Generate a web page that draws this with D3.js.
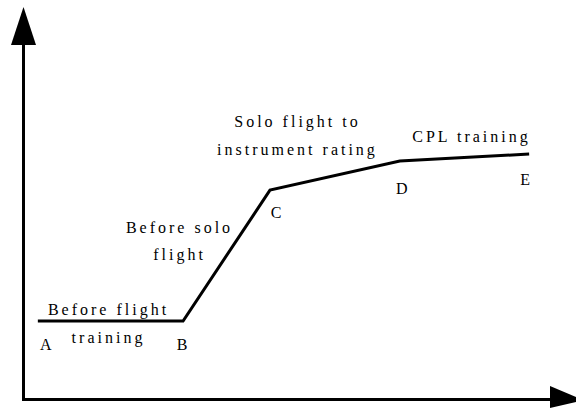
<!DOCTYPE html>
<html><head><meta charset="utf-8">
<script src="https://cdn.jsdelivr.net/npm/d3@7"></script>
<style>html,body{margin:0;padding:0;background:#fff;}svg{display:block;}
text{font-family:"Liberation Serif","Times New Roman",Times,"DejaVu Serif",serif;}</style>
</head><body>
<svg id="chart" width="576" height="409"></svg>
<script>
// data
const pointNames = ["A", "B", "C", "D", "E"];
const progressX = [2.8, 30.2, 46.6, 71.1, 95.5];
const levelY = [20.1, 20.1, 53.4, 60.8, 62.6];
const stageLabels = [
  ["Before flight", "training"],
  ["Before solo", "flight"],
  ["Solo flight to", "instrument rating"],
  ["CPL training"]
];

// layout (not data)
const W = 576, H = 409;
const x = d3.scaleLinear().domain([0, 100]).range([23, 553]);
const y = d3.scaleLinear().domain([0, 100]).range([400, 7]);
const pointLabelOffset = [[8, 29], [-1, 29], [6, 28], [2, 33], [-4, 31]];
const stageLabelPos = [[107, 315, 28], [178, 233, 27], [296, 127, 28], [470, 142, 0]];

const svg = d3.select("#chart");

// axes with arrows
svg.append("line").attr("x1", 23.5).attr("y1", 400).attr("x2", 23.5).attr("y2", 40)
  .attr("stroke", "#000").attr("stroke-width", 3);
svg.append("line").attr("x1", 22).attr("y1", 399.5).attr("x2", 552).attr("y2", 399.5)
  .attr("stroke", "#000").attr("stroke-width", 3);
svg.append("path").attr("d", "M23.5,7 L36,45 L11,45 Z").attr("fill", "#000");
svg.append("path").attr("d", "M550,386 L576,397 L576,402 L550,408 Z").attr("fill", "#000");

const pts = progressX.map((v, i) => [v, levelY[i]]);
svg.append("path").datum(pts)
  .attr("d", d3.line().x(d => x(d[0])).y(d => y(d[1])))
  .attr("fill", "none").attr("stroke", "#000").attr("stroke-width", 3)
  .attr("stroke-linejoin", "miter");

svg.selectAll("text.pt").data(pointNames).join("text")
  .attr("class", "pt")
  .attr("x", (d, i) => x(progressX[i]) + pointLabelOffset[i][0])
  .attr("y", (d, i) => y(levelY[i]) + pointLabelOffset[i][1])
  .attr("text-anchor", "middle")
  .attr("font-size", 16).attr("fill", "#000")
  .text(d => d);

stageLabels.forEach((lines, i) => {
  const [cx, by, lh] = stageLabelPos[i];
  lines.forEach((t, j) => {
    svg.append("text")
      .attr("x", cx + 1.5).attr("y", by + j * lh)
      .attr("text-anchor", "middle")
      .attr("font-size", 16)
      .attr("letter-spacing", 3).attr("fill", "#000")
      .text(t);
  });
});
</script>
</body></html>
